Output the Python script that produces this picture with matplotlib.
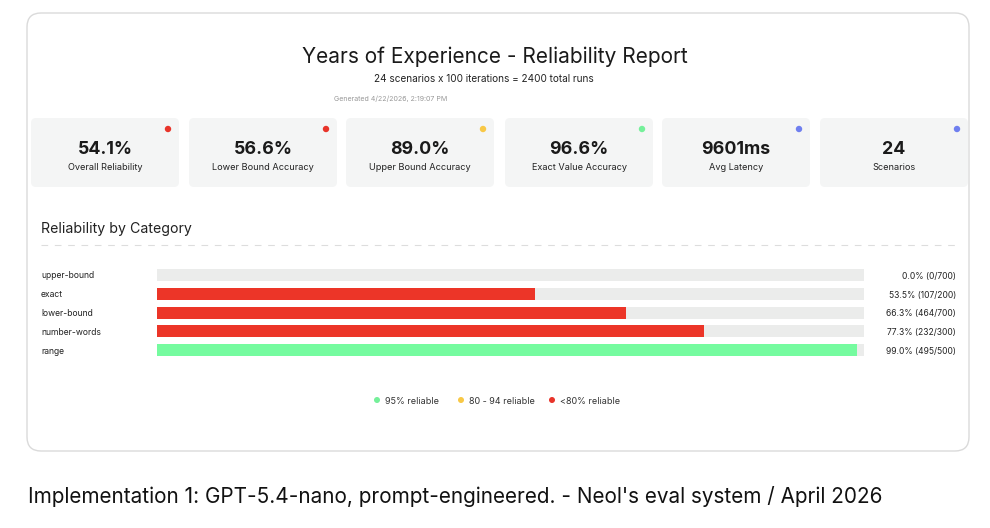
import matplotlib
matplotlib.use("Agg")
import matplotlib.pyplot as plt
from matplotlib.patches import FancyBboxPatch, Circle
from matplotlib.lines import Line2D

plt.rcParams['font.family'] = ['Inter', 'DejaVu Sans']

# ---- data ----
title = "Years of Experience - Reliability Report"
subtitle = "24 scenarios x 100 iterations = 2400 total runs"
generated = "Generated 4/22/2026, 2:19:07 PM"
kpi_values = ["54.1%", "56.6%", "89.0%", "96.6%", "9601ms", "24"]
kpi_labels = ["Overall Reliability", "Lower Bound Accuracy", "Upper Bound Accuracy",
              "Exact Value Accuracy", "Avg Latency", "Scenarios"]
kpi_dots = ["#E8342A", "#E8342A", "#F8C846", "#75F09A", "#6F7FEF", "#6F7FEF"]
section_title = "Reliability by Category"
categories = ["upper-bound", "exact", "lower-bound", "number-words", "range"]
pct = [0.0, 53.5, 66.3, 77.3, 99.0]
passed = [0, 107, 464, 232, 495]
totals = [700, 200, 700, 300, 500]
legend_labels = ["95% reliable", "80 - 94 reliable", "<80% reliable"]
legend_colors = ["#75F09A", "#F8C846", "#E8342A"]
caption = "Implementation 1: GPT-5.4-nano, prompt-engineered. - Neol's eval system / April 2026"

RED, YELLOW, GREEN = "#EC3528", "#F8C846", "#75FB9F"

W, H = 990, 528
fig = plt.figure(figsize=(W / 100, H / 100), dpi=100)
fig.patch.set_facecolor("white")

bg = fig.add_axes([0, 0, 1, 1])
bg.set_xlim(0, W)
bg.set_ylim(H, 0)
bg.axis("off")

# outer card
bg.add_patch(FancyBboxPatch((27, 13), 942, 438,
                            boxstyle="round,pad=0,rounding_size=14",
                            facecolor="white", edgecolor="#DADADA", lw=1.0))

bg.text(495, 57, title, ha="center", va="center", fontsize=15, color="#1a1a1a")
bg.text(484, 79.5, subtitle, ha="center", va="center", fontsize=7.2, color="#222222")
bg.text(391, 98.5, generated, ha="center", va="center", fontsize=5.1, color="#999999")

# KPI cards
card_x = [31, 189, 346, 505, 662, 820]
card_w = 148
for x0, v, lab, dc in zip(card_x, kpi_values, kpi_labels, kpi_dots):
    w = min(card_w, 968 - x0)
    bg.add_patch(FancyBboxPatch((x0, 118), w, 69,
                                boxstyle="round,pad=0,rounding_size=5",
                                facecolor="#F4F5F5", edgecolor="none"))
    bg.add_patch(Circle((x0 + 137, 129), 3.2, facecolor=dc, edgecolor="none"))
    bg.text(x0 + card_w / 2, 149, v, ha="center", va="center",
            fontsize=12.8, fontweight="bold", color="#1a1a1a")
    bg.text(x0 + card_w / 2, 167.5, lab, ha="center", va="center",
            fontsize=6.6, color="#222222")

bg.text(41, 229.5, section_title, ha="left", va="center", fontsize=10.2, color="#222222")
bg.add_line(Line2D([41, 955], [245, 245], color="#DDDDDD", lw=0.8,
                   linestyle=(0, (6, 6))))

# legend
leg_x = [377, 461, 552]
for lx, lab, c in zip(leg_x, legend_labels, legend_colors):
    bg.add_patch(Circle((lx, 400), 3.0, facecolor=c, edgecolor="none"))
    bg.text(lx + 8, 401.5, lab, ha="left", va="center", fontsize=6.5, color="#333333")

bg.text(28, 496.5, caption, ha="left", va="center", fontsize=14.9, color="#111111")

# bars
row = 18.75
top = 275 - row / 2
n = len(categories)
ax = fig.add_axes([157 / W, 1 - (top + n * row) / H, 707 / W, n * row / H])
ys = list(range(n))
colors = [GREEN if p >= 95 else (YELLOW if p >= 80 else RED) for p in pct]
ax.barh(ys, [100] * n, height=0.64, color="#EBECEB", edgecolor="none")
ax.barh(ys, pct, height=0.64, color=colors, edgecolor="none")
ax.set_xlim(0, 100)
ax.set_ylim(n - 0.5, -0.5)
ax.set_xticks([])
ax.set_yticks(ys)
ax.set_yticklabels(categories, ha="left", fontsize=6.2, color="#222222")
ax.tick_params(axis="y", length=0, pad=(157 - 41) * 0.72)
for s in ax.spines.values():
    s.set_visible(False)
ax.patch.set_alpha(0)
for y, p, a, t in zip(ys, pct, passed, totals):
    ax.annotate(f"{p:.1f}% ({a}/{t})", xy=(1, y), xycoords=("axes fraction", "data"),
                xytext=(92 * 0.72, -1), textcoords="offset points",
                ha="right", va="center", fontsize=6.1, color="#222222")

fig.savefig("out.png", dpi=100, facecolor="white")
